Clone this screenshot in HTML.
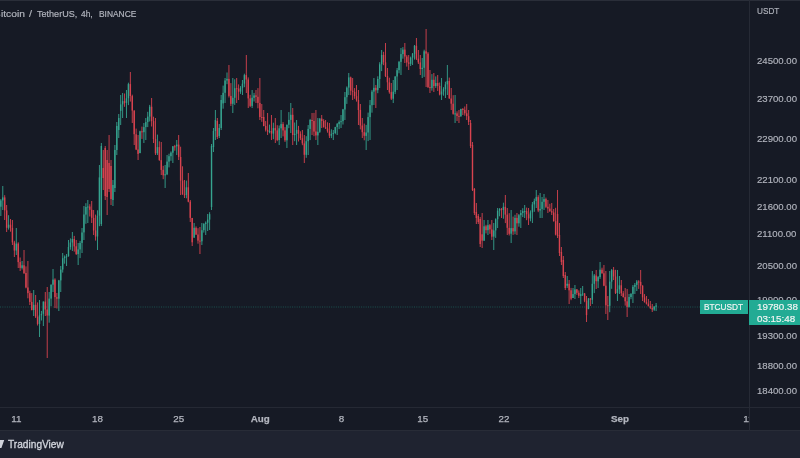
<!DOCTYPE html>
<html><head><meta charset="utf-8"><style>
*{margin:0;padding:0;box-sizing:border-box}
html,body{width:800px;height:458px;overflow:hidden;background:#161a25}
body{position:relative;font-family:"Liberation Sans",sans-serif;filter:grayscale(0)}
.abs{position:absolute;white-space:nowrap;line-height:1;-webkit-font-smoothing:antialiased}
#topline{left:0;top:0;width:800px;height:1px;background:#2a2e39}
#vsep{left:749px;top:0;width:1px;height:431px;background:#262a35}
#hsep{left:0;top:407px;width:800px;height:1px;background:#252934}
#bottom{left:0;top:431px;width:800px;height:27px;background:#1f2330}
#bline{left:0;top:430px;width:800px;height:1px;background:#282c37}
.title{top:9.2px;font-size:9.9px;color:#b2b5be;-webkit-text-stroke:0.2px #b2b5be;transform-origin:0 0}
.pl{left:757px;font-size:9.6px;color:#b2b5be;-webkit-text-stroke:0.15px #b2b5be;transform:scaleX(1);transform-origin:0 0}
.tl{top:6px;font-size:9.8px;color:#b2b5be;-webkit-text-stroke:0.25px #b2b5be;transform:translateX(-50%)}
.tl.b{font-weight:bold}
#tv{left:8.1px;top:438.1px;font-size:11.6px;color:#d1d4dc;-webkit-text-stroke:0.35px #d1d4dc;transform:scaleX(0.875);transform-origin:0 0}
#lbl1{left:700px;top:300px;width:48px;height:13.5px;background:#22ab94}
#lbl2{left:749px;top:300px;width:51px;height:24.6px;background:#22ab94}
.wt{color:#f0f4f3;font-size:9.8px;-webkit-text-stroke:0.2px #f0f4f3}
svg{position:absolute;left:0;top:0}
#tclip{left:0;top:408px;width:749px;height:21px;overflow:hidden}
</style></head><body>
<div class="abs" id="topline"></div>
<div class="abs" id="bottom"></div>
<div class="abs" id="bline"></div>
<div class="abs" id="hsep"></div>
<div class="abs" id="vsep"></div>
<div class="abs title" style="left:-6.1px;transform:scaleX(1.010)">B</div>
<div class="abs title" style="left:1.1px;transform:scaleX(1.035)">itcoin</div>
<div class="abs title" style="left:29px;transform:scaleX(1.090)">/</div>
<div class="abs title" style="left:37px;transform:scaleX(0.916)">TetherUS,</div>
<div class="abs title" style="left:81px;transform:scaleX(0.850)">4h,</div>
<div class="abs title" style="left:98.5px;transform:scaleX(0.850)">BINANCE</div>
<svg width="749" height="407" viewBox="0 0 749 407">
<path d="M0 307H700" stroke="#22ab94" stroke-width="1" stroke-dasharray="1 1.3" opacity="0.38"/>
<path d="M0.84 199.0V216.0" stroke="#36a48f" stroke-width="0.9"/>
<rect x="0.14" y="200.4" width="1.4" height="6.3" fill="#36a48f"/>
<path d="M2.77 186.0V210.0" stroke="#36a48f" stroke-width="0.9"/>
<rect x="2.07" y="197.4" width="1.4" height="3.0" fill="#36a48f"/>
<path d="M4.70 195.2V220.0" stroke="#d8434f" stroke-width="0.9"/>
<rect x="4.00" y="197.4" width="1.4" height="13.0" fill="#d8434f"/>
<path d="M6.63 205.0V232.0" stroke="#d8434f" stroke-width="0.9"/>
<rect x="5.93" y="210.4" width="1.4" height="17.4" fill="#d8434f"/>
<path d="M8.57 215.2V229.6" stroke="#36a48f" stroke-width="0.9"/>
<rect x="7.87" y="224.7" width="1.4" height="3.0" fill="#36a48f"/>
<path d="M10.50 219.0V231.7" stroke="#d8434f" stroke-width="0.9"/>
<rect x="9.80" y="224.7" width="1.4" height="3.1" fill="#d8434f"/>
<path d="M12.43 220.0V245.0" stroke="#d8434f" stroke-width="0.9"/>
<rect x="11.73" y="227.9" width="1.4" height="14.5" fill="#d8434f"/>
<path d="M14.37 240.8V257.0" stroke="#d8434f" stroke-width="0.9"/>
<rect x="13.67" y="242.4" width="1.4" height="8.1" fill="#d8434f"/>
<path d="M16.30 228.0V255.0" stroke="#36a48f" stroke-width="0.9"/>
<rect x="15.60" y="243.6" width="1.4" height="6.9" fill="#36a48f"/>
<path d="M18.23 242.3V268.0" stroke="#d8434f" stroke-width="0.9"/>
<rect x="17.53" y="243.6" width="1.4" height="18.5" fill="#d8434f"/>
<path d="M20.17 257.5V271.0" stroke="#d8434f" stroke-width="0.9"/>
<rect x="19.47" y="262.1" width="1.4" height="5.8" fill="#d8434f"/>
<path d="M22.10 261.0V269.5" stroke="#36a48f" stroke-width="0.9"/>
<rect x="21.40" y="265.3" width="1.4" height="2.6" fill="#36a48f"/>
<path d="M24.03 250.0V274.0" stroke="#d8434f" stroke-width="0.9"/>
<rect x="23.33" y="265.3" width="1.4" height="7.8" fill="#d8434f"/>
<path d="M25.97 266.4V288.3" stroke="#d8434f" stroke-width="0.9"/>
<rect x="25.27" y="273.0" width="1.4" height="14.5" fill="#d8434f"/>
<path d="M27.90 261.0V298.3" stroke="#d8434f" stroke-width="0.9"/>
<rect x="27.20" y="287.5" width="1.4" height="5.6" fill="#d8434f"/>
<path d="M29.83 290.8V305.0" stroke="#d8434f" stroke-width="0.9"/>
<rect x="29.13" y="293.1" width="1.4" height="8.8" fill="#d8434f"/>
<path d="M31.76 293.1V310.3" stroke="#d8434f" stroke-width="0.9"/>
<rect x="31.06" y="301.9" width="1.4" height="8.2" fill="#d8434f"/>
<path d="M33.70 290.0V316.0" stroke="#36a48f" stroke-width="0.9"/>
<rect x="33.00" y="304.8" width="1.4" height="5.2" fill="#36a48f"/>
<path d="M35.63 295.0V318.0" stroke="#d8434f" stroke-width="0.9"/>
<rect x="34.93" y="304.8" width="1.4" height="11.8" fill="#d8434f"/>
<path d="M37.56 302.4V325.5" stroke="#d8434f" stroke-width="0.9"/>
<rect x="36.86" y="316.6" width="1.4" height="7.3" fill="#d8434f"/>
<path d="M39.50 300.0V337.0" stroke="#36a48f" stroke-width="0.9"/>
<rect x="38.80" y="315.3" width="1.4" height="8.7" fill="#36a48f"/>
<path d="M41.43 310.9V320.5" stroke="#36a48f" stroke-width="0.9"/>
<rect x="40.73" y="313.9" width="1.4" height="1.4" fill="#36a48f"/>
<path d="M43.36 301.4V326.0" stroke="#36a48f" stroke-width="0.9"/>
<rect x="42.66" y="301.6" width="1.4" height="12.2" fill="#36a48f"/>
<path d="M45.30 292.0V316.0" stroke="#d8434f" stroke-width="0.9"/>
<rect x="44.59" y="301.6" width="1.4" height="7.9" fill="#d8434f"/>
<path d="M47.23 287.0V358.0" stroke="#d8434f" stroke-width="0.9"/>
<rect x="46.53" y="309.5" width="1.4" height="6.0" fill="#d8434f"/>
<path d="M49.16 292.0V322.7" stroke="#36a48f" stroke-width="0.9"/>
<rect x="48.46" y="298.6" width="1.4" height="17.0" fill="#36a48f"/>
<path d="M51.09 284.3V306.2" stroke="#36a48f" stroke-width="0.9"/>
<rect x="50.39" y="284.8" width="1.4" height="13.8" fill="#36a48f"/>
<path d="M53.03 269.0V292.0" stroke="#36a48f" stroke-width="0.9"/>
<rect x="52.33" y="279.6" width="1.4" height="5.1" fill="#36a48f"/>
<path d="M54.96 278.3V308.0" stroke="#d8434f" stroke-width="0.9"/>
<rect x="54.26" y="279.6" width="1.4" height="17.5" fill="#d8434f"/>
<path d="M56.89 293.0V308.5" stroke="#d8434f" stroke-width="0.9"/>
<rect x="56.19" y="297.2" width="1.4" height="1.5" fill="#d8434f"/>
<path d="M58.83 279.9V311.0" stroke="#36a48f" stroke-width="0.9"/>
<rect x="58.13" y="280.4" width="1.4" height="18.3" fill="#36a48f"/>
<path d="M60.76 266.0V292.0" stroke="#36a48f" stroke-width="0.9"/>
<rect x="60.06" y="269.6" width="1.4" height="10.8" fill="#36a48f"/>
<path d="M62.69 253.0V272.6" stroke="#36a48f" stroke-width="0.9"/>
<rect x="61.99" y="258.2" width="1.4" height="11.3" fill="#36a48f"/>
<path d="M64.62 255.4V263.7" stroke="#36a48f" stroke-width="0.9"/>
<rect x="63.92" y="256.7" width="1.4" height="1.5" fill="#36a48f"/>
<path d="M66.56 254.0V266.0" stroke="#36a48f" stroke-width="0.9"/>
<rect x="65.86" y="256.2" width="1.4" height="1.0" fill="#36a48f"/>
<path d="M68.49 240.0V256.7" stroke="#36a48f" stroke-width="0.9"/>
<rect x="67.79" y="247.0" width="1.4" height="9.2" fill="#36a48f"/>
<path d="M70.42 238.4V249.7" stroke="#36a48f" stroke-width="0.9"/>
<rect x="69.72" y="242.5" width="1.4" height="4.5" fill="#36a48f"/>
<path d="M72.36 232.0V251.0" stroke="#36a48f" stroke-width="0.9"/>
<rect x="71.66" y="239.0" width="1.4" height="3.5" fill="#36a48f"/>
<path d="M74.29 235.9V251.6" stroke="#d8434f" stroke-width="0.9"/>
<rect x="73.59" y="239.0" width="1.4" height="7.4" fill="#d8434f"/>
<path d="M76.22 240.0V255.0" stroke="#d8434f" stroke-width="0.9"/>
<rect x="75.52" y="246.3" width="1.4" height="7.7" fill="#d8434f"/>
<path d="M78.16 243.0V265.0" stroke="#36a48f" stroke-width="0.9"/>
<rect x="77.46" y="249.4" width="1.4" height="4.7" fill="#36a48f"/>
<path d="M80.09 240.9V258.1" stroke="#36a48f" stroke-width="0.9"/>
<rect x="79.39" y="242.9" width="1.4" height="6.5" fill="#36a48f"/>
<path d="M82.02 228.0V253.0" stroke="#36a48f" stroke-width="0.9"/>
<rect x="81.32" y="232.5" width="1.4" height="10.4" fill="#36a48f"/>
<path d="M83.95 206.0V240.0" stroke="#36a48f" stroke-width="0.9"/>
<rect x="83.25" y="214.5" width="1.4" height="17.9" fill="#36a48f"/>
<path d="M85.89 203.2V223.8" stroke="#36a48f" stroke-width="0.9"/>
<rect x="85.19" y="207.0" width="1.4" height="7.6" fill="#36a48f"/>
<path d="M87.82 200.0V223.0" stroke="#36a48f" stroke-width="0.9"/>
<rect x="87.12" y="206.5" width="1.4" height="1.0" fill="#36a48f"/>
<path d="M89.75 204.2V216.5" stroke="#d8434f" stroke-width="0.9"/>
<rect x="89.05" y="206.5" width="1.4" height="3.3" fill="#d8434f"/>
<path d="M91.69 201.0V223.0" stroke="#d8434f" stroke-width="0.9"/>
<rect x="90.99" y="209.8" width="1.4" height="8.1" fill="#d8434f"/>
<path d="M93.62 210.0V235.0" stroke="#d8434f" stroke-width="0.9"/>
<rect x="92.92" y="217.9" width="1.4" height="12.6" fill="#d8434f"/>
<path d="M95.55 214.6V240.6" stroke="#d8434f" stroke-width="0.9"/>
<rect x="94.85" y="230.5" width="1.4" height="6.0" fill="#d8434f"/>
<path d="M97.49 210.3V250.0" stroke="#36a48f" stroke-width="0.9"/>
<rect x="96.79" y="215.7" width="1.4" height="20.8" fill="#36a48f"/>
<path d="M99.42 165.0V226.2" stroke="#36a48f" stroke-width="0.9"/>
<rect x="98.72" y="177.4" width="1.4" height="38.3" fill="#36a48f"/>
<path d="M101.35 143.0V226.0" stroke="#36a48f" stroke-width="0.9"/>
<rect x="100.65" y="146.0" width="1.4" height="78.0" fill="#36a48f"/>
<path d="M103.28 150.0V190.0" stroke="#d8434f" stroke-width="0.9"/>
<rect x="102.58" y="168.0" width="1.4" height="10.0" fill="#d8434f"/>
<path d="M105.22 146.0V200.0" stroke="#d8434f" stroke-width="0.9"/>
<rect x="104.52" y="148.0" width="1.4" height="48.0" fill="#d8434f"/>
<path d="M107.15 150.0V215.0" stroke="#d8434f" stroke-width="0.9"/>
<rect x="106.45" y="160.0" width="1.4" height="37.0" fill="#d8434f"/>
<path d="M109.08 135.0V192.0" stroke="#d8434f" stroke-width="0.9"/>
<rect x="108.38" y="163.0" width="1.4" height="26.0" fill="#d8434f"/>
<path d="M111.02 160.0V205.0" stroke="#d8434f" stroke-width="0.9"/>
<rect x="110.32" y="166.0" width="1.4" height="33.0" fill="#d8434f"/>
<path d="M112.95 180.0V206.0" stroke="#36a48f" stroke-width="0.9"/>
<rect x="112.25" y="185.0" width="1.4" height="15.0" fill="#36a48f"/>
<path d="M114.88 145.0V192.0" stroke="#36a48f" stroke-width="0.9"/>
<rect x="114.18" y="150.0" width="1.4" height="38.0" fill="#36a48f"/>
<path d="M116.82 122.0V155.0" stroke="#36a48f" stroke-width="0.9"/>
<rect x="116.12" y="126.0" width="1.4" height="24.0" fill="#36a48f"/>
<path d="M118.75 114.0V138.0" stroke="#36a48f" stroke-width="0.9"/>
<rect x="118.05" y="118.0" width="1.4" height="12.0" fill="#36a48f"/>
<path d="M120.68 95.0V125.0" stroke="#36a48f" stroke-width="0.9"/>
<rect x="119.98" y="104.4" width="1.4" height="6.5" fill="#36a48f"/>
<path d="M122.61 93.0V118.0" stroke="#36a48f" stroke-width="0.9"/>
<rect x="121.91" y="101.1" width="1.4" height="3.3" fill="#36a48f"/>
<path d="M124.55 93.5V106.8" stroke="#d8434f" stroke-width="0.9"/>
<rect x="123.85" y="101.1" width="1.4" height="1.8" fill="#d8434f"/>
<path d="M126.48 90.0V118.0" stroke="#36a48f" stroke-width="0.9"/>
<rect x="125.78" y="98.3" width="1.4" height="4.6" fill="#36a48f"/>
<path d="M128.41 82.7V105.1" stroke="#36a48f" stroke-width="0.9"/>
<rect x="127.71" y="84.1" width="1.4" height="14.2" fill="#36a48f"/>
<path d="M130.35 72.0V101.6" stroke="#d8434f" stroke-width="0.9"/>
<rect x="129.65" y="84.1" width="1.4" height="11.9" fill="#d8434f"/>
<path d="M132.28 94.7V123.0" stroke="#d8434f" stroke-width="0.9"/>
<rect x="131.58" y="96.1" width="1.4" height="14.5" fill="#d8434f"/>
<path d="M134.21 110.4V145.0" stroke="#d8434f" stroke-width="0.9"/>
<rect x="133.51" y="110.5" width="1.4" height="23.7" fill="#d8434f"/>
<path d="M136.15 128.6V150.1" stroke="#d8434f" stroke-width="0.9"/>
<rect x="135.45" y="134.3" width="1.4" height="15.2" fill="#d8434f"/>
<path d="M138.08 135.0V160.0" stroke="#d8434f" stroke-width="0.9"/>
<rect x="137.38" y="149.5" width="1.4" height="4.4" fill="#d8434f"/>
<path d="M140.01 130.7V153.2" stroke="#36a48f" stroke-width="0.9"/>
<rect x="139.31" y="131.3" width="1.4" height="21.8" fill="#36a48f"/>
<path d="M141.95 126.6V138.9" stroke="#d8434f" stroke-width="0.9"/>
<rect x="141.25" y="131.3" width="1.4" height="1.0" fill="#d8434f"/>
<path d="M143.88 123.0V143.0" stroke="#36a48f" stroke-width="0.9"/>
<rect x="143.18" y="127.1" width="1.4" height="5.1" fill="#36a48f"/>
<path d="M145.81 118.0V140.0" stroke="#36a48f" stroke-width="0.9"/>
<rect x="145.11" y="122.1" width="1.4" height="5.0" fill="#36a48f"/>
<path d="M147.74 111.8V127.1" stroke="#36a48f" stroke-width="0.9"/>
<rect x="147.04" y="116.6" width="1.4" height="5.5" fill="#36a48f"/>
<path d="M149.68 104.9V121.5" stroke="#36a48f" stroke-width="0.9"/>
<rect x="148.98" y="106.7" width="1.4" height="9.9" fill="#36a48f"/>
<path d="M151.61 98.0V126.5" stroke="#d8434f" stroke-width="0.9"/>
<rect x="150.91" y="106.7" width="1.4" height="14.4" fill="#d8434f"/>
<path d="M153.54 116.7V143.0" stroke="#d8434f" stroke-width="0.9"/>
<rect x="152.84" y="121.1" width="1.4" height="17.9" fill="#d8434f"/>
<path d="M155.48 118.0V155.0" stroke="#d8434f" stroke-width="0.9"/>
<rect x="154.78" y="139.0" width="1.4" height="14.3" fill="#d8434f"/>
<path d="M157.41 134.6V155.0" stroke="#36a48f" stroke-width="0.9"/>
<rect x="156.71" y="147.1" width="1.4" height="6.2" fill="#36a48f"/>
<path d="M159.34 141.3V160.8" stroke="#d8434f" stroke-width="0.9"/>
<rect x="158.64" y="147.1" width="1.4" height="13.0" fill="#d8434f"/>
<path d="M161.28 142.0V175.0" stroke="#d8434f" stroke-width="0.9"/>
<rect x="160.58" y="160.1" width="1.4" height="9.8" fill="#d8434f"/>
<path d="M163.21 165.8V179.2" stroke="#d8434f" stroke-width="0.9"/>
<rect x="162.51" y="169.8" width="1.4" height="5.5" fill="#d8434f"/>
<path d="M165.14 165.0V188.0" stroke="#36a48f" stroke-width="0.9"/>
<rect x="164.44" y="174.3" width="1.4" height="1.0" fill="#36a48f"/>
<path d="M167.07 155.0V175.1" stroke="#36a48f" stroke-width="0.9"/>
<rect x="166.37" y="161.6" width="1.4" height="12.7" fill="#36a48f"/>
<path d="M169.01 153.7V167.4" stroke="#36a48f" stroke-width="0.9"/>
<rect x="168.31" y="156.2" width="1.4" height="5.4" fill="#36a48f"/>
<path d="M170.94 151.4V160.8" stroke="#36a48f" stroke-width="0.9"/>
<rect x="170.24" y="152.6" width="1.4" height="3.6" fill="#36a48f"/>
<path d="M172.87 146.1V163.0" stroke="#36a48f" stroke-width="0.9"/>
<rect x="172.17" y="146.3" width="1.4" height="6.4" fill="#36a48f"/>
<path d="M174.81 144.9V150.7" stroke="#d8434f" stroke-width="0.9"/>
<rect x="174.11" y="146.3" width="1.4" height="1.0" fill="#d8434f"/>
<path d="M176.74 140.0V155.0" stroke="#36a48f" stroke-width="0.9"/>
<rect x="176.04" y="144.6" width="1.4" height="1.7" fill="#36a48f"/>
<path d="M178.67 135.0V160.0" stroke="#d8434f" stroke-width="0.9"/>
<rect x="177.97" y="144.6" width="1.4" height="12.3" fill="#d8434f"/>
<path d="M180.61 146.7V195.0" stroke="#d8434f" stroke-width="0.9"/>
<rect x="179.91" y="157.0" width="1.4" height="23.6" fill="#d8434f"/>
<path d="M182.54 166.3V194.8" stroke="#d8434f" stroke-width="0.9"/>
<rect x="181.84" y="180.6" width="1.4" height="13.7" fill="#d8434f"/>
<path d="M184.47 180.0V198.0" stroke="#d8434f" stroke-width="0.9"/>
<rect x="183.77" y="194.3" width="1.4" height="1.0" fill="#d8434f"/>
<path d="M186.40 180.6V198.3" stroke="#36a48f" stroke-width="0.9"/>
<rect x="185.70" y="187.3" width="1.4" height="7.6" fill="#36a48f"/>
<path d="M188.34 173.0V202.3" stroke="#d8434f" stroke-width="0.9"/>
<rect x="187.64" y="187.3" width="1.4" height="14.4" fill="#d8434f"/>
<path d="M190.27 200.0V222.0" stroke="#d8434f" stroke-width="0.9"/>
<rect x="189.57" y="201.6" width="1.4" height="16.3" fill="#d8434f"/>
<path d="M192.20 217.9V246.0" stroke="#d8434f" stroke-width="0.9"/>
<rect x="191.50" y="218.0" width="1.4" height="24.3" fill="#d8434f"/>
<path d="M194.14 223.0V237.7" stroke="#36a48f" stroke-width="0.9"/>
<rect x="193.44" y="227.8" width="1.4" height="9.9" fill="#36a48f"/>
<path d="M196.07 226.4V235.0" stroke="#d8434f" stroke-width="0.9"/>
<rect x="195.37" y="227.8" width="1.4" height="6.7" fill="#d8434f"/>
<path d="M198.00 228.2V243.7" stroke="#d8434f" stroke-width="0.9"/>
<rect x="197.30" y="234.5" width="1.4" height="6.1" fill="#d8434f"/>
<path d="M199.94 227.0V254.0" stroke="#d8434f" stroke-width="0.9"/>
<rect x="199.24" y="240.6" width="1.4" height="1.0" fill="#d8434f"/>
<path d="M201.87 223.0V245.0" stroke="#36a48f" stroke-width="0.9"/>
<rect x="201.17" y="230.2" width="1.4" height="11.1" fill="#36a48f"/>
<path d="M203.80 223.2V232.6" stroke="#36a48f" stroke-width="0.9"/>
<rect x="203.10" y="223.8" width="1.4" height="6.4" fill="#36a48f"/>
<path d="M205.73 221.4V235.0" stroke="#36a48f" stroke-width="0.9"/>
<rect x="205.03" y="222.7" width="1.4" height="1.2" fill="#36a48f"/>
<path d="M207.67 214.0V231.0" stroke="#36a48f" stroke-width="0.9"/>
<rect x="206.97" y="219.6" width="1.4" height="3.1" fill="#36a48f"/>
<path d="M209.60 212.2V230.0" stroke="#36a48f" stroke-width="0.9"/>
<rect x="208.90" y="214.2" width="1.4" height="5.4" fill="#36a48f"/>
<path d="M211.53 144.0V210.0" stroke="#36a48f" stroke-width="0.9"/>
<rect x="210.83" y="146.0" width="1.4" height="61.0" fill="#36a48f"/>
<path d="M213.47 128.0V152.0" stroke="#36a48f" stroke-width="0.9"/>
<rect x="212.77" y="131.0" width="1.4" height="16.0" fill="#36a48f"/>
<path d="M215.40 110.0V140.0" stroke="#36a48f" stroke-width="0.9"/>
<rect x="214.70" y="120.0" width="1.4" height="11.0" fill="#36a48f"/>
<path d="M217.33 118.0V139.0" stroke="#d8434f" stroke-width="0.9"/>
<rect x="216.63" y="121.0" width="1.4" height="16.0" fill="#d8434f"/>
<path d="M219.27 124.0V138.0" stroke="#36a48f" stroke-width="0.9"/>
<rect x="218.57" y="128.0" width="1.4" height="8.0" fill="#36a48f"/>
<path d="M221.20 95.0V130.0" stroke="#36a48f" stroke-width="0.9"/>
<rect x="220.50" y="100.0" width="1.4" height="28.0" fill="#36a48f"/>
<path d="M223.13 85.6V108.7" stroke="#36a48f" stroke-width="0.9"/>
<rect x="222.43" y="92.8" width="1.4" height="10.6" fill="#36a48f"/>
<path d="M225.06 78.0V103.0" stroke="#36a48f" stroke-width="0.9"/>
<rect x="224.36" y="80.5" width="1.4" height="12.3" fill="#36a48f"/>
<path d="M227.00 72.5V84.2" stroke="#36a48f" stroke-width="0.9"/>
<rect x="226.30" y="78.9" width="1.4" height="1.6" fill="#36a48f"/>
<path d="M228.93 65.0V97.5" stroke="#d8434f" stroke-width="0.9"/>
<rect x="228.23" y="78.9" width="1.4" height="17.0" fill="#d8434f"/>
<path d="M230.86 83.1V106.0" stroke="#d8434f" stroke-width="0.9"/>
<rect x="230.16" y="95.9" width="1.4" height="7.9" fill="#d8434f"/>
<path d="M232.80 78.0V113.0" stroke="#36a48f" stroke-width="0.9"/>
<rect x="232.10" y="97.8" width="1.4" height="6.0" fill="#36a48f"/>
<path d="M234.73 79.3V104.9" stroke="#36a48f" stroke-width="0.9"/>
<rect x="234.03" y="88.2" width="1.4" height="9.6" fill="#36a48f"/>
<path d="M236.66 78.0V103.0" stroke="#d8434f" stroke-width="0.9"/>
<rect x="235.96" y="88.2" width="1.4" height="1.0" fill="#d8434f"/>
<path d="M238.60 84.4V100.0" stroke="#d8434f" stroke-width="0.9"/>
<rect x="237.90" y="88.7" width="1.4" height="3.0" fill="#d8434f"/>
<path d="M240.53 86.1V93.9" stroke="#36a48f" stroke-width="0.9"/>
<rect x="239.83" y="87.9" width="1.4" height="3.7" fill="#36a48f"/>
<path d="M242.46 80.0V95.0" stroke="#36a48f" stroke-width="0.9"/>
<rect x="241.76" y="83.7" width="1.4" height="4.2" fill="#36a48f"/>
<path d="M244.39 73.7V87.2" stroke="#36a48f" stroke-width="0.9"/>
<rect x="243.69" y="75.1" width="1.4" height="8.6" fill="#36a48f"/>
<path d="M246.33 55.0V93.0" stroke="#d8434f" stroke-width="0.9"/>
<rect x="245.63" y="75.1" width="1.4" height="4.4" fill="#d8434f"/>
<path d="M248.26 77.4V108.0" stroke="#d8434f" stroke-width="0.9"/>
<rect x="247.56" y="79.5" width="1.4" height="18.9" fill="#d8434f"/>
<path d="M250.19 94.8V107.1" stroke="#d8434f" stroke-width="0.9"/>
<rect x="249.49" y="98.4" width="1.4" height="7.5" fill="#d8434f"/>
<path d="M252.13 90.0V108.0" stroke="#36a48f" stroke-width="0.9"/>
<rect x="251.43" y="97.8" width="1.4" height="8.1" fill="#36a48f"/>
<path d="M254.06 92.9V101.5" stroke="#36a48f" stroke-width="0.9"/>
<rect x="253.36" y="95.4" width="1.4" height="2.4" fill="#36a48f"/>
<path d="M255.99 90.0V103.0" stroke="#d8434f" stroke-width="0.9"/>
<rect x="255.29" y="95.4" width="1.4" height="1.4" fill="#d8434f"/>
<path d="M257.93 88.1V108.3" stroke="#d8434f" stroke-width="0.9"/>
<rect x="257.23" y="96.8" width="1.4" height="6.1" fill="#d8434f"/>
<path d="M259.86 78.0V120.0" stroke="#d8434f" stroke-width="0.9"/>
<rect x="259.16" y="102.9" width="1.4" height="14.1" fill="#d8434f"/>
<path d="M261.79 104.0V121.8" stroke="#d8434f" stroke-width="0.9"/>
<rect x="261.09" y="117.0" width="1.4" height="1.0" fill="#d8434f"/>
<path d="M263.72 110.0V126.3" stroke="#d8434f" stroke-width="0.9"/>
<rect x="263.02" y="117.0" width="1.4" height="9.0" fill="#d8434f"/>
<path d="M265.66 121.1V131.5" stroke="#d8434f" stroke-width="0.9"/>
<rect x="264.96" y="126.0" width="1.4" height="3.8" fill="#d8434f"/>
<path d="M267.59 113.0V135.0" stroke="#d8434f" stroke-width="0.9"/>
<rect x="266.89" y="129.8" width="1.4" height="1.7" fill="#d8434f"/>
<path d="M269.52 124.6V133.3" stroke="#36a48f" stroke-width="0.9"/>
<rect x="268.82" y="131.0" width="1.4" height="1.0" fill="#36a48f"/>
<path d="M271.46 115.0V140.0" stroke="#d8434f" stroke-width="0.9"/>
<rect x="270.76" y="131.0" width="1.4" height="2.6" fill="#d8434f"/>
<path d="M273.39 122.7V139.2" stroke="#36a48f" stroke-width="0.9"/>
<rect x="272.69" y="128.1" width="1.4" height="5.5" fill="#36a48f"/>
<path d="M275.32 118.0V143.0" stroke="#d8434f" stroke-width="0.9"/>
<rect x="274.62" y="128.1" width="1.4" height="2.3" fill="#d8434f"/>
<path d="M277.25 125.2V141.2" stroke="#d8434f" stroke-width="0.9"/>
<rect x="276.56" y="130.4" width="1.4" height="9.6" fill="#d8434f"/>
<path d="M279.19 125.5V145.0" stroke="#36a48f" stroke-width="0.9"/>
<rect x="278.49" y="128.3" width="1.4" height="11.7" fill="#36a48f"/>
<path d="M281.12 110.0V138.0" stroke="#36a48f" stroke-width="0.9"/>
<rect x="280.42" y="124.1" width="1.4" height="4.2" fill="#36a48f"/>
<path d="M283.05 122.1V136.4" stroke="#d8434f" stroke-width="0.9"/>
<rect x="282.35" y="124.1" width="1.4" height="6.3" fill="#d8434f"/>
<path d="M284.99 127.1V141.9" stroke="#d8434f" stroke-width="0.9"/>
<rect x="284.29" y="130.4" width="1.4" height="9.9" fill="#d8434f"/>
<path d="M286.92 124.5V148.0" stroke="#36a48f" stroke-width="0.9"/>
<rect x="286.22" y="124.8" width="1.4" height="15.5" fill="#36a48f"/>
<path d="M288.85 112.1V128.2" stroke="#36a48f" stroke-width="0.9"/>
<rect x="288.15" y="119.9" width="1.4" height="4.9" fill="#36a48f"/>
<path d="M290.79 103.0V133.0" stroke="#36a48f" stroke-width="0.9"/>
<rect x="290.09" y="114.8" width="1.4" height="5.1" fill="#36a48f"/>
<path d="M292.72 108.0V145.0" stroke="#d8434f" stroke-width="0.9"/>
<rect x="292.02" y="114.8" width="1.4" height="20.2" fill="#d8434f"/>
<path d="M294.65 122.5V141.2" stroke="#36a48f" stroke-width="0.9"/>
<rect x="293.95" y="133.7" width="1.4" height="1.4" fill="#36a48f"/>
<path d="M296.59 120.0V145.0" stroke="#36a48f" stroke-width="0.9"/>
<rect x="295.89" y="129.9" width="1.4" height="3.8" fill="#36a48f"/>
<path d="M298.52 125.9V141.5" stroke="#d8434f" stroke-width="0.9"/>
<rect x="297.82" y="129.9" width="1.4" height="3.9" fill="#d8434f"/>
<path d="M300.45 131.3V140.0" stroke="#d8434f" stroke-width="0.9"/>
<rect x="299.75" y="133.8" width="1.4" height="4.5" fill="#d8434f"/>
<path d="M302.38 130.0V145.2" stroke="#d8434f" stroke-width="0.9"/>
<rect x="301.68" y="138.2" width="1.4" height="5.2" fill="#d8434f"/>
<path d="M304.32 135.0V163.0" stroke="#d8434f" stroke-width="0.9"/>
<rect x="303.62" y="143.4" width="1.4" height="11.4" fill="#d8434f"/>
<path d="M306.25 136.2V157.8" stroke="#36a48f" stroke-width="0.9"/>
<rect x="305.55" y="141.2" width="1.4" height="13.6" fill="#36a48f"/>
<path d="M308.18 125.0V155.0" stroke="#36a48f" stroke-width="0.9"/>
<rect x="307.48" y="128.9" width="1.4" height="12.3" fill="#36a48f"/>
<path d="M310.12 118.9V140.1" stroke="#36a48f" stroke-width="0.9"/>
<rect x="309.42" y="120.0" width="1.4" height="8.9" fill="#36a48f"/>
<path d="M312.05 113.0V135.0" stroke="#d8434f" stroke-width="0.9"/>
<rect x="311.35" y="120.0" width="1.4" height="1.0" fill="#d8434f"/>
<path d="M313.98 112.9V136.2" stroke="#d8434f" stroke-width="0.9"/>
<rect x="313.28" y="121.0" width="1.4" height="10.6" fill="#d8434f"/>
<path d="M315.92 110.0V140.0" stroke="#d8434f" stroke-width="0.9"/>
<rect x="315.22" y="131.5" width="1.4" height="3.9" fill="#d8434f"/>
<path d="M317.85 118.0V145.0" stroke="#36a48f" stroke-width="0.9"/>
<rect x="317.15" y="131.8" width="1.4" height="3.6" fill="#36a48f"/>
<path d="M319.78 118.1V132.9" stroke="#36a48f" stroke-width="0.9"/>
<rect x="319.08" y="118.6" width="1.4" height="13.2" fill="#36a48f"/>
<path d="M321.71 115.0V128.0" stroke="#d8434f" stroke-width="0.9"/>
<rect x="321.01" y="118.6" width="1.4" height="2.4" fill="#d8434f"/>
<path d="M323.65 119.2V127.5" stroke="#d8434f" stroke-width="0.9"/>
<rect x="322.95" y="121.0" width="1.4" height="6.2" fill="#d8434f"/>
<path d="M325.58 120.0V128.9" stroke="#d8434f" stroke-width="0.9"/>
<rect x="324.88" y="127.2" width="1.4" height="1.3" fill="#d8434f"/>
<path d="M327.51 122.3V132.7" stroke="#d8434f" stroke-width="0.9"/>
<rect x="326.81" y="128.5" width="1.4" height="2.7" fill="#d8434f"/>
<path d="M329.45 123.0V138.0" stroke="#d8434f" stroke-width="0.9"/>
<rect x="328.75" y="131.2" width="1.4" height="4.5" fill="#d8434f"/>
<path d="M331.38 129.3V138.1" stroke="#36a48f" stroke-width="0.9"/>
<rect x="330.68" y="133.9" width="1.4" height="1.8" fill="#36a48f"/>
<path d="M333.31 130.0V140.0" stroke="#36a48f" stroke-width="0.9"/>
<rect x="332.61" y="132.9" width="1.4" height="1.0" fill="#36a48f"/>
<path d="M335.25 126.8V134.2" stroke="#36a48f" stroke-width="0.9"/>
<rect x="334.55" y="127.1" width="1.4" height="5.9" fill="#36a48f"/>
<path d="M337.18 123.0V135.0" stroke="#36a48f" stroke-width="0.9"/>
<rect x="336.48" y="124.1" width="1.4" height="3.0" fill="#36a48f"/>
<path d="M339.11 120.4V129.1" stroke="#36a48f" stroke-width="0.9"/>
<rect x="338.41" y="122.0" width="1.4" height="2.1" fill="#36a48f"/>
<path d="M341.04 115.0V128.0" stroke="#36a48f" stroke-width="0.9"/>
<rect x="340.34" y="121.2" width="1.4" height="1.0" fill="#36a48f"/>
<path d="M342.98 108.9V124.5" stroke="#36a48f" stroke-width="0.9"/>
<rect x="342.28" y="109.4" width="1.4" height="11.7" fill="#36a48f"/>
<path d="M344.91 92.0V120.0" stroke="#36a48f" stroke-width="0.9"/>
<rect x="344.21" y="97.2" width="1.4" height="12.3" fill="#36a48f"/>
<path d="M346.84 86.4V103.9" stroke="#36a48f" stroke-width="0.9"/>
<rect x="346.14" y="87.6" width="1.4" height="9.6" fill="#36a48f"/>
<path d="M348.78 73.0V95.0" stroke="#36a48f" stroke-width="0.9"/>
<rect x="348.08" y="77.4" width="1.4" height="10.2" fill="#36a48f"/>
<path d="M350.71 76.6V95.2" stroke="#d8434f" stroke-width="0.9"/>
<rect x="350.01" y="77.4" width="1.4" height="13.3" fill="#d8434f"/>
<path d="M352.64 78.0V100.0" stroke="#d8434f" stroke-width="0.9"/>
<rect x="351.94" y="90.7" width="1.4" height="1.1" fill="#d8434f"/>
<path d="M354.58 88.1V98.8" stroke="#d8434f" stroke-width="0.9"/>
<rect x="353.88" y="91.8" width="1.4" height="4.3" fill="#d8434f"/>
<path d="M356.51 85.0V101.6" stroke="#d8434f" stroke-width="0.9"/>
<rect x="355.81" y="96.1" width="1.4" height="3.9" fill="#d8434f"/>
<path d="M358.44 90.0V125.0" stroke="#d8434f" stroke-width="0.9"/>
<rect x="357.74" y="100.0" width="1.4" height="10.0" fill="#d8434f"/>
<path d="M360.37 104.0V129.4" stroke="#d8434f" stroke-width="0.9"/>
<rect x="359.67" y="109.9" width="1.4" height="15.6" fill="#d8434f"/>
<path d="M362.31 118.0V138.0" stroke="#d8434f" stroke-width="0.9"/>
<rect x="361.61" y="125.5" width="1.4" height="6.7" fill="#d8434f"/>
<path d="M364.24 123.6V140.3" stroke="#d8434f" stroke-width="0.9"/>
<rect x="363.54" y="132.2" width="1.4" height="3.6" fill="#d8434f"/>
<path d="M366.17 124.9V150.0" stroke="#36a48f" stroke-width="0.9"/>
<rect x="365.47" y="132.5" width="1.4" height="3.4" fill="#36a48f"/>
<path d="M368.11 112.6V141.1" stroke="#36a48f" stroke-width="0.9"/>
<rect x="367.41" y="117.1" width="1.4" height="15.4" fill="#36a48f"/>
<path d="M370.04 100.0V140.0" stroke="#36a48f" stroke-width="0.9"/>
<rect x="369.34" y="105.2" width="1.4" height="11.9" fill="#36a48f"/>
<path d="M371.97 89.9V112.7" stroke="#36a48f" stroke-width="0.9"/>
<rect x="371.27" y="91.6" width="1.4" height="13.6" fill="#36a48f"/>
<path d="M373.91 78.0V105.0" stroke="#36a48f" stroke-width="0.9"/>
<rect x="373.21" y="87.8" width="1.4" height="3.8" fill="#36a48f"/>
<path d="M375.84 85.0V108.0" stroke="#d8434f" stroke-width="0.9"/>
<rect x="375.14" y="87.8" width="1.4" height="2.5" fill="#d8434f"/>
<path d="M377.77 76.3V93.2" stroke="#36a48f" stroke-width="0.9"/>
<rect x="377.07" y="79.0" width="1.4" height="11.2" fill="#36a48f"/>
<path d="M379.70 62.2V88.0" stroke="#36a48f" stroke-width="0.9"/>
<rect x="379.00" y="64.3" width="1.4" height="14.7" fill="#36a48f"/>
<path d="M381.64 50.0V71.1" stroke="#36a48f" stroke-width="0.9"/>
<rect x="380.94" y="54.9" width="1.4" height="9.4" fill="#36a48f"/>
<path d="M383.57 51.8V65.2" stroke="#d8434f" stroke-width="0.9"/>
<rect x="382.87" y="54.9" width="1.4" height="7.4" fill="#d8434f"/>
<path d="M385.50 43.0V77.0" stroke="#d8434f" stroke-width="0.9"/>
<rect x="384.80" y="62.3" width="1.4" height="13.7" fill="#d8434f"/>
<path d="M387.44 68.0V90.0" stroke="#d8434f" stroke-width="0.9"/>
<rect x="386.74" y="76.0" width="1.4" height="6.3" fill="#d8434f"/>
<path d="M389.37 77.7V93.7" stroke="#d8434f" stroke-width="0.9"/>
<rect x="388.67" y="82.3" width="1.4" height="9.9" fill="#d8434f"/>
<path d="M391.30 83.0V100.0" stroke="#d8434f" stroke-width="0.9"/>
<rect x="390.60" y="92.1" width="1.4" height="6.6" fill="#d8434f"/>
<path d="M393.24 80.0V103.0" stroke="#36a48f" stroke-width="0.9"/>
<rect x="392.54" y="91.7" width="1.4" height="7.0" fill="#36a48f"/>
<path d="M395.17 76.2V94.1" stroke="#36a48f" stroke-width="0.9"/>
<rect x="394.47" y="76.5" width="1.4" height="15.3" fill="#36a48f"/>
<path d="M397.10 68.0V90.0" stroke="#36a48f" stroke-width="0.9"/>
<rect x="396.40" y="70.2" width="1.4" height="6.3" fill="#36a48f"/>
<path d="M399.03 60.9V73.3" stroke="#36a48f" stroke-width="0.9"/>
<rect x="398.33" y="61.9" width="1.4" height="8.2" fill="#36a48f"/>
<path d="M400.97 48.0V75.0" stroke="#36a48f" stroke-width="0.9"/>
<rect x="400.27" y="54.1" width="1.4" height="7.8" fill="#36a48f"/>
<path d="M402.90 47.1V58.7" stroke="#36a48f" stroke-width="0.9"/>
<rect x="402.20" y="49.6" width="1.4" height="4.5" fill="#36a48f"/>
<path d="M404.83 43.0V63.0" stroke="#d8434f" stroke-width="0.9"/>
<rect x="404.13" y="49.6" width="1.4" height="6.9" fill="#d8434f"/>
<path d="M406.77 55.1V66.6" stroke="#d8434f" stroke-width="0.9"/>
<rect x="406.07" y="56.6" width="1.4" height="5.9" fill="#d8434f"/>
<path d="M408.70 55.0V70.0" stroke="#d8434f" stroke-width="0.9"/>
<rect x="408.00" y="62.4" width="1.4" height="1.4" fill="#d8434f"/>
<path d="M410.63 56.6V66.0" stroke="#36a48f" stroke-width="0.9"/>
<rect x="409.93" y="57.6" width="1.4" height="6.2" fill="#36a48f"/>
<path d="M412.56 53.0V65.0" stroke="#36a48f" stroke-width="0.9"/>
<rect x="411.87" y="53.7" width="1.4" height="3.9" fill="#36a48f"/>
<path d="M414.50 45.0V59.6" stroke="#36a48f" stroke-width="0.9"/>
<rect x="413.80" y="45.8" width="1.4" height="8.0" fill="#36a48f"/>
<path d="M416.43 38.0V60.0" stroke="#d8434f" stroke-width="0.9"/>
<rect x="415.73" y="45.8" width="1.4" height="12.9" fill="#d8434f"/>
<path d="M418.36 50.0V64.0" stroke="#d8434f" stroke-width="0.9"/>
<rect x="417.66" y="58.7" width="1.4" height="3.7" fill="#d8434f"/>
<path d="M420.30 55.0V75.0" stroke="#d8434f" stroke-width="0.9"/>
<rect x="419.60" y="62.4" width="1.4" height="6.6" fill="#d8434f"/>
<path d="M422.23 58.0V78.0" stroke="#36a48f" stroke-width="0.9"/>
<rect x="421.53" y="67.8" width="1.4" height="1.2" fill="#36a48f"/>
<path d="M424.16 49.7V76.9" stroke="#36a48f" stroke-width="0.9"/>
<rect x="423.46" y="51.3" width="1.4" height="16.5" fill="#36a48f"/>
<path d="M426.10 29.0V87.0" stroke="#d8434f" stroke-width="0.9"/>
<rect x="425.40" y="51.3" width="1.4" height="2.3" fill="#d8434f"/>
<path d="M428.03 52.1V88.0" stroke="#d8434f" stroke-width="0.9"/>
<rect x="427.33" y="53.6" width="1.4" height="33.5" fill="#d8434f"/>
<path d="M429.96 70.0V93.0" stroke="#d8434f" stroke-width="0.9"/>
<rect x="429.26" y="87.1" width="1.4" height="1.0" fill="#d8434f"/>
<path d="M431.90 74.1V90.7" stroke="#36a48f" stroke-width="0.9"/>
<rect x="431.20" y="79.8" width="1.4" height="8.3" fill="#36a48f"/>
<path d="M433.83 73.0V92.0" stroke="#d8434f" stroke-width="0.9"/>
<rect x="433.13" y="79.8" width="1.4" height="6.2" fill="#d8434f"/>
<path d="M435.76 76.4V87.9" stroke="#36a48f" stroke-width="0.9"/>
<rect x="435.06" y="83.0" width="1.4" height="3.0" fill="#36a48f"/>
<path d="M437.69 75.0V90.9" stroke="#d8434f" stroke-width="0.9"/>
<rect x="436.99" y="83.0" width="1.4" height="2.9" fill="#d8434f"/>
<path d="M439.63 82.5V95.4" stroke="#d8434f" stroke-width="0.9"/>
<rect x="438.93" y="85.9" width="1.4" height="8.6" fill="#d8434f"/>
<path d="M441.56 78.0V100.0" stroke="#36a48f" stroke-width="0.9"/>
<rect x="440.86" y="91.5" width="1.4" height="3.0" fill="#36a48f"/>
<path d="M443.49 87.2V95.7" stroke="#36a48f" stroke-width="0.9"/>
<rect x="442.79" y="89.3" width="1.4" height="2.2" fill="#36a48f"/>
<path d="M445.43 81.7V98.0" stroke="#36a48f" stroke-width="0.9"/>
<rect x="444.73" y="84.4" width="1.4" height="4.9" fill="#36a48f"/>
<path d="M447.36 65.0V95.0" stroke="#36a48f" stroke-width="0.9"/>
<rect x="446.66" y="80.9" width="1.4" height="3.5" fill="#36a48f"/>
<path d="M449.29 77.6V98.8" stroke="#d8434f" stroke-width="0.9"/>
<rect x="448.59" y="80.9" width="1.4" height="17.5" fill="#d8434f"/>
<path d="M451.23 88.0V110.0" stroke="#d8434f" stroke-width="0.9"/>
<rect x="450.53" y="98.5" width="1.4" height="5.2" fill="#d8434f"/>
<path d="M453.16 95.2V114.7" stroke="#d8434f" stroke-width="0.9"/>
<rect x="452.46" y="103.7" width="1.4" height="10.1" fill="#d8434f"/>
<path d="M455.09 95.0V123.0" stroke="#36a48f" stroke-width="0.9"/>
<rect x="454.39" y="113.4" width="1.4" height="1.0" fill="#36a48f"/>
<path d="M457.02 111.3V121.0" stroke="#d8434f" stroke-width="0.9"/>
<rect x="456.32" y="113.4" width="1.4" height="2.6" fill="#d8434f"/>
<path d="M458.96 110.0V123.0" stroke="#d8434f" stroke-width="0.9"/>
<rect x="458.26" y="115.9" width="1.4" height="1.0" fill="#d8434f"/>
<path d="M460.89 108.7V116.9" stroke="#36a48f" stroke-width="0.9"/>
<rect x="460.19" y="109.0" width="1.4" height="7.2" fill="#36a48f"/>
<path d="M462.82 108.0V115.0" stroke="#d8434f" stroke-width="0.9"/>
<rect x="462.12" y="109.0" width="1.4" height="1.0" fill="#d8434f"/>
<path d="M464.76 106.5V115.7" stroke="#d8434f" stroke-width="0.9"/>
<rect x="464.06" y="109.9" width="1.4" height="3.4" fill="#d8434f"/>
<path d="M466.69 104.0V120.0" stroke="#d8434f" stroke-width="0.9"/>
<rect x="465.99" y="113.3" width="1.4" height="2.9" fill="#d8434f"/>
<path d="M468.62 110.0V125.0" stroke="#d8434f" stroke-width="0.9"/>
<rect x="467.92" y="116.2" width="1.4" height="5.9" fill="#d8434f"/>
<path d="M470.56 120.0V148.0" stroke="#d8434f" stroke-width="0.9"/>
<rect x="469.86" y="123.0" width="1.4" height="23.0" fill="#d8434f"/>
<path d="M472.49 142.0V191.0" stroke="#d8434f" stroke-width="0.9"/>
<rect x="471.79" y="145.0" width="1.4" height="45.0" fill="#d8434f"/>
<path d="M474.42 188.0V215.0" stroke="#d8434f" stroke-width="0.9"/>
<rect x="473.72" y="189.0" width="1.4" height="24.0" fill="#d8434f"/>
<path d="M476.35 203.0V224.0" stroke="#d8434f" stroke-width="0.9"/>
<rect x="475.65" y="212.0" width="1.4" height="6.0" fill="#d8434f"/>
<path d="M478.29 214.0V224.0" stroke="#d8434f" stroke-width="0.9"/>
<rect x="477.59" y="216.0" width="1.4" height="6.0" fill="#d8434f"/>
<path d="M480.22 217.0V247.0" stroke="#d8434f" stroke-width="0.9"/>
<rect x="479.52" y="219.0" width="1.4" height="25.0" fill="#d8434f"/>
<path d="M482.15 213.0V248.0" stroke="#d8434f" stroke-width="0.9"/>
<rect x="481.45" y="234.3" width="1.4" height="6.3" fill="#d8434f"/>
<path d="M484.09 220.0V240.8" stroke="#36a48f" stroke-width="0.9"/>
<rect x="483.39" y="226.3" width="1.4" height="14.4" fill="#36a48f"/>
<path d="M486.02 224.8V233.4" stroke="#d8434f" stroke-width="0.9"/>
<rect x="485.32" y="226.3" width="1.4" height="3.9" fill="#d8434f"/>
<path d="M487.95 220.0V235.0" stroke="#36a48f" stroke-width="0.9"/>
<rect x="487.25" y="225.2" width="1.4" height="5.0" fill="#36a48f"/>
<path d="M489.89 224.0V233.8" stroke="#d8434f" stroke-width="0.9"/>
<rect x="489.19" y="225.2" width="1.4" height="4.2" fill="#d8434f"/>
<path d="M491.82 220.0V240.0" stroke="#d8434f" stroke-width="0.9"/>
<rect x="491.12" y="229.5" width="1.4" height="7.2" fill="#d8434f"/>
<path d="M493.75 223.0V250.0" stroke="#36a48f" stroke-width="0.9"/>
<rect x="493.05" y="230.4" width="1.4" height="6.2" fill="#36a48f"/>
<path d="M495.68 218.3V237.9" stroke="#36a48f" stroke-width="0.9"/>
<rect x="494.98" y="219.2" width="1.4" height="11.2" fill="#36a48f"/>
<path d="M497.62 208.0V228.0" stroke="#36a48f" stroke-width="0.9"/>
<rect x="496.92" y="210.7" width="1.4" height="8.5" fill="#36a48f"/>
<path d="M499.55 208.2V216.3" stroke="#36a48f" stroke-width="0.9"/>
<rect x="498.85" y="208.8" width="1.4" height="1.8" fill="#36a48f"/>
<path d="M501.48 208.0V218.0" stroke="#d8434f" stroke-width="0.9"/>
<rect x="500.78" y="208.8" width="1.4" height="1.1" fill="#d8434f"/>
<path d="M503.42 202.7V218.7" stroke="#36a48f" stroke-width="0.9"/>
<rect x="502.72" y="206.8" width="1.4" height="3.1" fill="#36a48f"/>
<path d="M505.35 195.0V223.1" stroke="#d8434f" stroke-width="0.9"/>
<rect x="504.65" y="206.8" width="1.4" height="7.8" fill="#d8434f"/>
<path d="M507.28 208.0V235.0" stroke="#d8434f" stroke-width="0.9"/>
<rect x="506.58" y="214.6" width="1.4" height="13.2" fill="#d8434f"/>
<path d="M509.22 213.2V235.5" stroke="#d8434f" stroke-width="0.9"/>
<rect x="508.52" y="227.9" width="1.4" height="5.9" fill="#d8434f"/>
<path d="M511.15 210.0V243.0" stroke="#36a48f" stroke-width="0.9"/>
<rect x="510.45" y="228.1" width="1.4" height="5.6" fill="#36a48f"/>
<path d="M513.08 216.6V234.9" stroke="#d8434f" stroke-width="0.9"/>
<rect x="512.38" y="228.1" width="1.4" height="3.3" fill="#d8434f"/>
<path d="M515.01 214.8V234.3" stroke="#36a48f" stroke-width="0.9"/>
<rect x="514.31" y="217.9" width="1.4" height="13.5" fill="#36a48f"/>
<path d="M516.95 213.0V235.0" stroke="#d8434f" stroke-width="0.9"/>
<rect x="516.25" y="217.9" width="1.4" height="5.4" fill="#d8434f"/>
<path d="M518.88 214.0V226.7" stroke="#36a48f" stroke-width="0.9"/>
<rect x="518.18" y="215.2" width="1.4" height="8.1" fill="#36a48f"/>
<path d="M520.81 210.0V228.0" stroke="#36a48f" stroke-width="0.9"/>
<rect x="520.11" y="213.0" width="1.4" height="2.2" fill="#36a48f"/>
<path d="M522.75 208.2V217.1" stroke="#36a48f" stroke-width="0.9"/>
<rect x="522.05" y="211.1" width="1.4" height="1.9" fill="#36a48f"/>
<path d="M524.68 205.0V218.0" stroke="#36a48f" stroke-width="0.9"/>
<rect x="523.98" y="211.1" width="1.4" height="1.0" fill="#36a48f"/>
<path d="M526.61 207.6V220.2" stroke="#d8434f" stroke-width="0.9"/>
<rect x="525.91" y="211.1" width="1.4" height="3.2" fill="#d8434f"/>
<path d="M528.54 208.0V225.0" stroke="#d8434f" stroke-width="0.9"/>
<rect x="527.84" y="214.3" width="1.4" height="4.1" fill="#d8434f"/>
<path d="M530.48 210.4V221.3" stroke="#36a48f" stroke-width="0.9"/>
<rect x="529.78" y="212.4" width="1.4" height="6.0" fill="#36a48f"/>
<path d="M532.41 202.0V223.0" stroke="#36a48f" stroke-width="0.9"/>
<rect x="531.71" y="204.4" width="1.4" height="8.0" fill="#36a48f"/>
<path d="M534.34 198.6V211.8" stroke="#36a48f" stroke-width="0.9"/>
<rect x="533.64" y="200.9" width="1.4" height="3.5" fill="#36a48f"/>
<path d="M536.28 190.0V208.0" stroke="#36a48f" stroke-width="0.9"/>
<rect x="535.58" y="197.1" width="1.4" height="3.8" fill="#36a48f"/>
<path d="M538.21 195.2V212.2" stroke="#d8434f" stroke-width="0.9"/>
<rect x="537.51" y="197.1" width="1.4" height="13.4" fill="#d8434f"/>
<path d="M540.14 193.0V218.0" stroke="#36a48f" stroke-width="0.9"/>
<rect x="539.44" y="208.9" width="1.4" height="1.6" fill="#36a48f"/>
<path d="M542.08 197.0V218.0" stroke="#36a48f" stroke-width="0.9"/>
<rect x="541.38" y="201.8" width="1.4" height="7.1" fill="#36a48f"/>
<path d="M544.01 194.0V210.0" stroke="#36a48f" stroke-width="0.9"/>
<rect x="543.31" y="199.1" width="1.4" height="2.7" fill="#36a48f"/>
<path d="M545.94 197.6V208.1" stroke="#d8434f" stroke-width="0.9"/>
<rect x="545.24" y="199.1" width="1.4" height="7.7" fill="#d8434f"/>
<path d="M547.88 200.0V213.0" stroke="#d8434f" stroke-width="0.9"/>
<rect x="547.17" y="206.8" width="1.4" height="1.7" fill="#d8434f"/>
<path d="M549.81 203.8V211.8" stroke="#d8434f" stroke-width="0.9"/>
<rect x="549.11" y="208.6" width="1.4" height="2.7" fill="#d8434f"/>
<path d="M551.74 203.0V215.0" stroke="#d8434f" stroke-width="0.9"/>
<rect x="551.04" y="211.3" width="1.4" height="1.2" fill="#d8434f"/>
<path d="M553.67 209.0V221.6" stroke="#d8434f" stroke-width="0.9"/>
<rect x="552.97" y="212.5" width="1.4" height="8.7" fill="#d8434f"/>
<path d="M555.61 207.8V235.4" stroke="#d8434f" stroke-width="0.9"/>
<rect x="554.91" y="221.2" width="1.4" height="13.4" fill="#d8434f"/>
<path d="M557.54 190.0V238.0" stroke="#d8434f" stroke-width="0.9"/>
<rect x="556.84" y="214.0" width="1.4" height="22.0" fill="#d8434f"/>
<path d="M559.47 223.0V256.0" stroke="#d8434f" stroke-width="0.9"/>
<rect x="558.77" y="235.0" width="1.4" height="18.0" fill="#d8434f"/>
<path d="M561.41 247.0V265.0" stroke="#d8434f" stroke-width="0.9"/>
<rect x="560.71" y="252.0" width="1.4" height="10.0" fill="#d8434f"/>
<path d="M563.34 256.0V278.0" stroke="#d8434f" stroke-width="0.9"/>
<rect x="562.64" y="260.0" width="1.4" height="16.0" fill="#d8434f"/>
<path d="M565.27 272.0V290.0" stroke="#d8434f" stroke-width="0.9"/>
<rect x="564.57" y="275.0" width="1.4" height="13.0" fill="#d8434f"/>
<path d="M567.20 276.0V288.0" stroke="#36a48f" stroke-width="0.9"/>
<rect x="566.50" y="283.8" width="1.4" height="1.9" fill="#36a48f"/>
<path d="M569.14 280.0V304.0" stroke="#d8434f" stroke-width="0.9"/>
<rect x="568.44" y="283.8" width="1.4" height="6.5" fill="#d8434f"/>
<path d="M571.07 287.9V300.2" stroke="#d8434f" stroke-width="0.9"/>
<rect x="570.37" y="290.3" width="1.4" height="8.4" fill="#d8434f"/>
<path d="M573.00 288.0V298.0" stroke="#36a48f" stroke-width="0.9"/>
<rect x="572.30" y="294.1" width="1.4" height="3.9" fill="#36a48f"/>
<path d="M574.94 285.0V299.0" stroke="#36a48f" stroke-width="0.9"/>
<rect x="574.24" y="289.4" width="1.4" height="4.7" fill="#36a48f"/>
<path d="M576.87 289.0V294.9" stroke="#d8434f" stroke-width="0.9"/>
<rect x="576.17" y="289.4" width="1.4" height="3.4" fill="#d8434f"/>
<path d="M578.80 290.4V298.0" stroke="#d8434f" stroke-width="0.9"/>
<rect x="578.10" y="292.8" width="1.4" height="3.0" fill="#d8434f"/>
<path d="M580.74 288.0V304.0" stroke="#36a48f" stroke-width="0.9"/>
<rect x="580.04" y="294.2" width="1.4" height="1.7" fill="#36a48f"/>
<path d="M582.67 286.0V296.0" stroke="#36a48f" stroke-width="0.9"/>
<rect x="581.97" y="293.5" width="1.4" height="1.0" fill="#36a48f"/>
<path d="M584.60 293.0V302.2" stroke="#d8434f" stroke-width="0.9"/>
<rect x="583.90" y="293.5" width="1.4" height="7.2" fill="#d8434f"/>
<path d="M586.53 296.0V322.0" stroke="#d8434f" stroke-width="0.9"/>
<rect x="585.83" y="300.7" width="1.4" height="14.4" fill="#d8434f"/>
<path d="M588.47 298.0V309.2" stroke="#36a48f" stroke-width="0.9"/>
<rect x="587.77" y="298.5" width="1.4" height="10.6" fill="#36a48f"/>
<path d="M590.40 298.0V306.0" stroke="#d8434f" stroke-width="0.9"/>
<rect x="589.70" y="298.5" width="1.4" height="1.3" fill="#d8434f"/>
<path d="M592.33 271.0V304.0" stroke="#36a48f" stroke-width="0.9"/>
<rect x="591.63" y="283.8" width="1.4" height="16.0" fill="#36a48f"/>
<path d="M594.27 274.0V293.1" stroke="#36a48f" stroke-width="0.9"/>
<rect x="593.57" y="275.5" width="1.4" height="8.3" fill="#36a48f"/>
<path d="M596.20 270.0V289.0" stroke="#d8434f" stroke-width="0.9"/>
<rect x="595.50" y="275.5" width="1.4" height="5.7" fill="#d8434f"/>
<path d="M598.13 276.0V288.0" stroke="#36a48f" stroke-width="0.9"/>
<rect x="597.43" y="277.1" width="1.4" height="4.2" fill="#36a48f"/>
<path d="M600.07 262.0V278.9" stroke="#36a48f" stroke-width="0.9"/>
<rect x="599.37" y="269.7" width="1.4" height="7.4" fill="#36a48f"/>
<path d="M602.00 267.7V273.7" stroke="#d8434f" stroke-width="0.9"/>
<rect x="601.30" y="269.7" width="1.4" height="3.6" fill="#d8434f"/>
<path d="M603.93 265.0V286.2" stroke="#d8434f" stroke-width="0.9"/>
<rect x="603.23" y="273.3" width="1.4" height="12.4" fill="#d8434f"/>
<path d="M605.87 271.0V314.0" stroke="#d8434f" stroke-width="0.9"/>
<rect x="605.16" y="285.7" width="1.4" height="19.6" fill="#d8434f"/>
<path d="M607.80 296.0V320.0" stroke="#d8434f" stroke-width="0.9"/>
<rect x="607.10" y="305.2" width="1.4" height="1.0" fill="#d8434f"/>
<path d="M609.73 271.0V312.2" stroke="#36a48f" stroke-width="0.9"/>
<rect x="609.03" y="281.6" width="1.4" height="24.2" fill="#36a48f"/>
<path d="M611.66 269.0V288.8" stroke="#36a48f" stroke-width="0.9"/>
<rect x="610.96" y="270.1" width="1.4" height="11.5" fill="#36a48f"/>
<path d="M613.60 267.0V280.0" stroke="#d8434f" stroke-width="0.9"/>
<rect x="612.90" y="270.1" width="1.4" height="6.4" fill="#d8434f"/>
<path d="M615.53 269.8V294.0" stroke="#d8434f" stroke-width="0.9"/>
<rect x="614.83" y="276.5" width="1.4" height="16.6" fill="#d8434f"/>
<path d="M617.46 270.0V301.0" stroke="#36a48f" stroke-width="0.9"/>
<rect x="616.76" y="289.2" width="1.4" height="3.8" fill="#36a48f"/>
<path d="M619.40 276.0V294.0" stroke="#36a48f" stroke-width="0.9"/>
<rect x="618.70" y="285.3" width="1.4" height="4.0" fill="#36a48f"/>
<path d="M621.33 280.0V296.0" stroke="#d8434f" stroke-width="0.9"/>
<rect x="620.63" y="285.3" width="1.4" height="8.0" fill="#d8434f"/>
<path d="M623.26 291.1V297.5" stroke="#d8434f" stroke-width="0.9"/>
<rect x="622.56" y="293.3" width="1.4" height="3.8" fill="#d8434f"/>
<path d="M625.19 288.0V305.6" stroke="#d8434f" stroke-width="0.9"/>
<rect x="624.49" y="297.1" width="1.4" height="4.2" fill="#d8434f"/>
<path d="M627.13 289.0V317.0" stroke="#d8434f" stroke-width="0.9"/>
<rect x="626.43" y="301.3" width="1.4" height="5.6" fill="#d8434f"/>
<path d="M629.06 294.0V307.6" stroke="#36a48f" stroke-width="0.9"/>
<rect x="628.36" y="297.0" width="1.4" height="9.9" fill="#36a48f"/>
<path d="M630.99 293.1V299.2" stroke="#36a48f" stroke-width="0.9"/>
<rect x="630.29" y="293.9" width="1.4" height="3.1" fill="#36a48f"/>
<path d="M632.93 285.0V303.0" stroke="#36a48f" stroke-width="0.9"/>
<rect x="632.23" y="286.8" width="1.4" height="7.1" fill="#36a48f"/>
<path d="M634.86 283.0V294.0" stroke="#36a48f" stroke-width="0.9"/>
<rect x="634.16" y="284.9" width="1.4" height="1.9" fill="#36a48f"/>
<path d="M636.79 280.0V291.0" stroke="#36a48f" stroke-width="0.9"/>
<rect x="636.09" y="281.5" width="1.4" height="3.4" fill="#36a48f"/>
<path d="M638.73 280.2V288.9" stroke="#d8434f" stroke-width="0.9"/>
<rect x="638.03" y="281.5" width="1.4" height="1.0" fill="#d8434f"/>
<path d="M640.66 270.0V294.0" stroke="#d8434f" stroke-width="0.9"/>
<rect x="639.96" y="281.9" width="1.4" height="3.8" fill="#d8434f"/>
<path d="M642.59 285.3V301.0" stroke="#d8434f" stroke-width="0.9"/>
<rect x="641.89" y="285.6" width="1.4" height="11.8" fill="#d8434f"/>
<path d="M644.52 294.1V302.6" stroke="#d8434f" stroke-width="0.9"/>
<rect x="643.82" y="297.4" width="1.4" height="4.7" fill="#d8434f"/>
<path d="M646.46 296.0V304.5" stroke="#d8434f" stroke-width="0.9"/>
<rect x="645.76" y="302.1" width="1.4" height="1.5" fill="#d8434f"/>
<path d="M648.39 299.0V306.3" stroke="#d8434f" stroke-width="0.9"/>
<rect x="647.69" y="303.6" width="1.4" height="2.6" fill="#d8434f"/>
<path d="M650.32 301.0V309.0" stroke="#d8434f" stroke-width="0.9"/>
<rect x="649.62" y="306.1" width="1.4" height="1.8" fill="#d8434f"/>
<path d="M652.26 304.0V312.0" stroke="#d8434f" stroke-width="0.9"/>
<rect x="651.56" y="307.9" width="1.4" height="1.7" fill="#d8434f"/>
<path d="M654.19 306.0V310.9" stroke="#36a48f" stroke-width="0.9"/>
<rect x="653.49" y="306.7" width="1.4" height="3.0" fill="#36a48f"/>
<path d="M656.12 303.0V311.0" stroke="#36a48f" stroke-width="0.9"/>
<rect x="655.42" y="305.5" width="1.4" height="1.1" fill="#36a48f"/>
</svg>
<div class="abs pl" style="top:6.40px;transform:scaleX(0.857);transform-origin:0 0">USDT</div>
<div class="abs pl" style="top:56.40px">24500.00</div>
<div class="abs pl" style="top:94.35px">23700.00</div>
<div class="abs pl" style="top:134.30px">22900.00</div>
<div class="abs pl" style="top:175.40px">22100.00</div>
<div class="abs pl" style="top:201.50px">21600.00</div>
<div class="abs pl" style="top:228.60px">21100.00</div>
<div class="abs pl" style="top:260.65px">20500.00</div>
<div class="abs pl" style="top:295.20px">19900.00</div>
<div class="abs pl" style="top:330.70px">19300.00</div>
<div class="abs pl" style="top:360.70px">18800.00</div>
<div class="abs pl" style="top:385.60px">18400.00</div>
<div class="abs" id="lbl1"></div>
<div class="abs" id="lbl2"></div>
<div class="abs wt" style="left:704px;top:302px;transform:scaleX(0.845);transform-origin:0 0">BTCUSDT</div>
<div class="abs wt" style="left:757px;top:302px">19780.38</div>
<div class="abs wt" style="left:757px;top:314px">03:15:48</div>
<div class="abs" id="tclip">
<div class="abs tl" style="left:16.3px">11</div>
<div class="abs tl" style="left:97.5px">18</div>
<div class="abs tl" style="left:178.7px">25</div>
<div class="abs tl b" style="left:260.3px">Aug</div>
<div class="abs tl" style="left:341.5px">8</div>
<div class="abs tl" style="left:422.7px">15</div>
<div class="abs tl" style="left:504px">22</div>
<div class="abs tl b" style="left:620px">Sep</div>
<div class="abs tl" style="left:743.2px;transform:none">1</div><div class="abs tl" style="left:748.2px;transform:none">2</div>
</div>
<div class="abs" id="tv">TradingView</div>
<svg style="left:0;top:430px" width="10" height="28"><polygon points="0,10 4.2,10 1.4,18 0,18" fill="#d1d4dc"/></svg>
</body></html>
